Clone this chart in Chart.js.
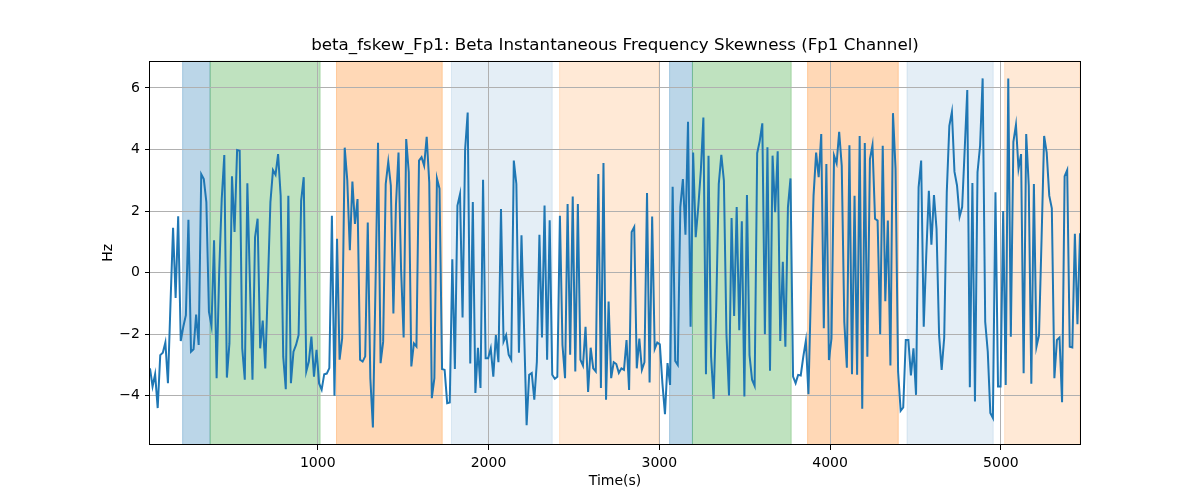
<!DOCTYPE html>
<html lang="en">
<head>
    <meta charset="UTF-8">
    <title>beta_fskew_Fp1</title>
    <style>
        body { margin: 0; background: #fff; }
        #myChart { display: block; }
    </style>
    <script src="https://cdn.jsdelivr.net/npm/chart.js"></script>
</head>
<body>
    <canvas id="myChart" width="1200" height="500"></canvas>
    <script>
        // sample times: first window + fixed step (s)
        var tStart = 18;
        var tStep = 15;

        // skewness values (Hz)
        var values = [
            -3.11, -3.70, -3.30, -4.40, -2.68, -2.60, -2.27, -3.59, -1.00, 1.46,
            -0.82, 1.83, -2.22, -1.76, -1.38, 1.72, -2.57, -2.49, -1.36, -2.35,
            3.20, 3.04, 2.29, -1.27, -1.73, 1.05, -3.43, 0.00, 2.40, 3.82,
            -3.41, -2.30, 3.13, 1.32, 3.98, 3.96, -2.46, -3.48, 2.90, -0.30,
            -3.48, 1.15, 1.75, -2.46, -1.56, -3.11, -0.40, 2.29, 3.33, 3.18,
            3.85, 2.50, -2.73, -3.79, 2.50, -3.59, -2.57, -2.35, -2.03, 2.34,
            3.10, -3.21, -2.89, -2.08, -3.38, -2.51, -3.60, -3.80, -3.30, -3.28,
            -3.10, 1.85, -4.00, 1.10, -2.83, -2.14, 4.06, 3.00, 0.73, 2.96,
            1.58, 2.39, -2.83, -2.89, -2.72, 1.63, -3.43, -5.03, -0.50, 4.22,
            -2.94, -2.25, 2.88, 3.60, 2.83, -1.33, 2.20, 3.90, 0.10, -2.11,
            4.34, 3.26, -3.05, -2.30, -2.40, 3.64, 3.75, 3.48, 4.41, 2.93,
            -4.08, -3.43, 3.06, 2.73, -3.13, -3.16, -4.24, -4.22, 0.43, -3.13,
            2.18, 2.55, -1.46, 4.00, 5.20, -2.95, 2.29, -3.91, -2.44, -3.75,
            3.02, -2.78, -2.78, -2.46, -3.38, -2.03, -2.91, 2.07, -2.24, -2.03,
            -2.67, -2.83, 3.64, 2.88, -2.60, 1.21, -1.80, -4.96, -3.32, -3.26,
            -4.13, -2.90, 1.23, -2.11, 2.18, -2.83, 1.70, -3.32, -3.45, -3.38,
            1.85, -2.35, -3.43, 2.23, -2.67, 2.47, -3.21, 2.23, -2.83, -3.02,
            -1.76, -3.88, -2.44, -3.11, -3.21, 3.20, -3.75, 3.56, -4.13, -0.94,
            -3.43, -2.91, -2.97, -3.26, -3.11, -3.16, -2.19, -3.81, 1.32, 1.48,
            -3.11, -2.14, -3.16, -2.91, 2.59, -3.57, 1.82, -2.48, -2.27, -2.33,
            -3.59, -4.60, -2.94, -3.65, 2.79, -2.87, -3.00, 2.13, 3.04, 1.23,
            4.90, -1.76, 3.90, 1.15, 2.13, 3.31, 5.04, -3.30, 3.80, -2.73,
            -4.10, -1.17, 2.88, 3.83, 2.99, -2.00, -3.99, 1.77, -1.41, 2.13,
            -1.87, 1.67, -4.02, 2.52, -2.68, -3.48, -3.68, 3.88, 4.28, 4.85,
            -2.00, 4.07, -3.19, 3.80, 1.96, 3.94, -2.22, 0.35, -2.41, 2.13,
            3.06, -3.38, -3.59, -3.32, -3.34, -2.73, -2.21, -3.95, -0.50, 2.50,
            3.90, 3.10, 4.50, -1.81, 3.53, -2.84, -2.14, 3.80, 3.55, 4.57,
            3.47, -1.60, -3.09, 4.14, -3.30, 2.50, -3.32, 4.44, -4.42, 4.21,
            -2.73, 3.69, 4.14, 1.75, 1.69, -2.00, 4.12, -0.93, 1.69, -3.02,
            5.18, 3.37, -3.21, -4.49, -4.38, -2.19, -2.19, -3.34, -2.46, -3.97,
            2.77, 3.64, -1.76, 0.60, 2.66, 0.91, 2.52, 1.42, -2.03, -3.16,
            -2.11, 2.61, 4.77, 5.22, 3.28, 2.83, 1.82, 2.13, 4.01, 5.93,
            -3.72, 2.91, -4.19, 3.26, 4.12, 6.31, -1.60, -2.57, -4.56, -4.72,
            2.61, -3.70, -3.70, 2.00, -3.65, 6.31, -2.08, 4.25, 4.80, 3.37,
            3.85, -3.27, 4.50, 2.83, -3.61, 2.88, -2.41, -2.03, 1.10, 4.44,
            3.90, 2.50, 2.09, -3.43, -2.19, -2.11, -4.21, 3.13, 3.33, -2.41,
            -2.43, 1.26, -1.68, 1.28
        ];

        // shaded segments (s)
        var spanStart = [209, 370, 1110, 1783, 2416, 3060, 3194, 3868, 4450, 5022];
        var spanEnd   = [370, 1014, 1729, 2373, 2997, 3194, 3772, 4399, 4955, 5463];
        var spanColor = [
            'rgba(31,119,180,0.3)', 'rgba(44,160,44,0.3)', 'rgba(255,127,14,0.3)',
            'rgba(31,119,180,0.12)', 'rgba(255,127,14,0.17)',
            'rgba(31,119,180,0.3)', 'rgba(44,160,44,0.3)', 'rgba(255,127,14,0.3)',
            'rgba(31,119,180,0.12)', 'rgba(255,127,14,0.17)'
        ];

        var xTicks = [1000, 2000, 3000, 4000, 5000];
        var yTicks = [-4, -2, 0, 2, 4, 6];

        var points = values.map(function(v, i) {
            return { x: tStart + i * tStep, y: v };
        });

        // matplotlib style labels: no thousands separator, real minus sign
        function tickLabel(value) {
            return String(value).replace('-', '\u2212');
        }

        var spanPlugin = {
            id: 'spans',
            beforeDraw: function(chart) {
                var ctx = chart.ctx, area = chart.chartArea, xs = chart.scales.x;
                ctx.save();
                ctx.beginPath();
                ctx.rect(area.left, area.top, area.right - area.left, area.bottom - area.top);
                ctx.clip();
                for (var i = 0; i < spanStart.length; i++) {
                    var x0 = xs.getPixelForValue(spanStart[i]);
                    var x1 = xs.getPixelForValue(spanEnd[i]);
                    ctx.fillStyle = spanColor[i];
                    ctx.fillRect(x0, area.top, x1 - x0, area.bottom - area.top);
                    ctx.strokeStyle = spanColor[i];
                    ctx.lineWidth = 1;
                    ctx.strokeRect(x0, area.top, x1 - x0, area.bottom - area.top);
                }
                ctx.restore();
            },
            afterDraw: function(chart) {
                var ctx = chart.ctx, a = chart.chartArea;
                ctx.save();
                ctx.strokeStyle = '#000';
                ctx.lineWidth = 1;
                ctx.strokeRect(Math.round(a.left) - 0.5, Math.round(a.top) + 0.5,
                    Math.round(a.right - a.left) + 1, Math.round(a.bottom - a.top) - 1);
                ctx.restore();
            }
        };

        var font = { family: 'DejaVu Sans', size: 14 };

        new Chart(document.getElementById('myChart').getContext('2d'), {
            type: 'line',
            data: {
                datasets: [{
                    data: points,
                    borderColor: '#1f77b4',
                    borderWidth: 2,
                    pointRadius: 0,
                    tension: 0,
                    fill: false
                }]
            },
            options: {
                responsive: false,
                animation: false,
                layout: { padding: { left: 0, right: 120, top: 0, bottom: 0 } },
                plugins: {
                    legend: { display: false },
                    tooltip: { enabled: false },
                    title: {
                        display: true,
                        fullSize: false,
                        text: 'beta_fskew_Fp1: Beta Instantaneous Frequency Skewness (Fp1 Channel)',
                        color: '#000',
                        font: { family: 'DejaVu Sans', size: 16.7, weight: 'normal' },
                        padding: { top: 36, bottom: 4.8 }
                    }
                },
                scales: {
                    x: {
                        type: 'linear',
                        min: tStart,
                        max: tStart + (values.length - 1) * tStep,
                        afterFit: function(s) { s.height = 55; },
                        afterBuildTicks: function(s) { s.ticks = xTicks.map(function(v) { return { value: v }; }); },
                        ticks: { color: '#000', font: font, padding: 5, maxRotation: 0, callback: tickLabel },
                        grid: { color: '#b0b0b0', tickColor: '#000', tickLength: 5, lineWidth: 1 },
                        border: { display: false },
                        title: { display: true, text: 'Time(s)', color: '#000', font: font, padding: { top: 0, bottom: 10.6 } }
                    },
                    y: {
                        min: -5.6,
                        max: 6.88,
                        afterFit: function(s) { s.width = 150; },
                        afterBuildTicks: function(s) { s.ticks = yTicks.map(function(v) { return { value: v }; }); },
                        ticks: { color: '#000', font: font, padding: 5, callback: tickLabel },
                        grid: { color: '#b0b0b0', tickColor: '#000', tickLength: 5, lineWidth: 1 },
                        border: { display: false },
                        title: { display: true, text: 'Hz', color: '#000', font: font, padding: { top: 99.6, bottom: 0 } }
                    }
                }
            },
            plugins: [spanPlugin]
        });
    </script>
</body>
</html>
